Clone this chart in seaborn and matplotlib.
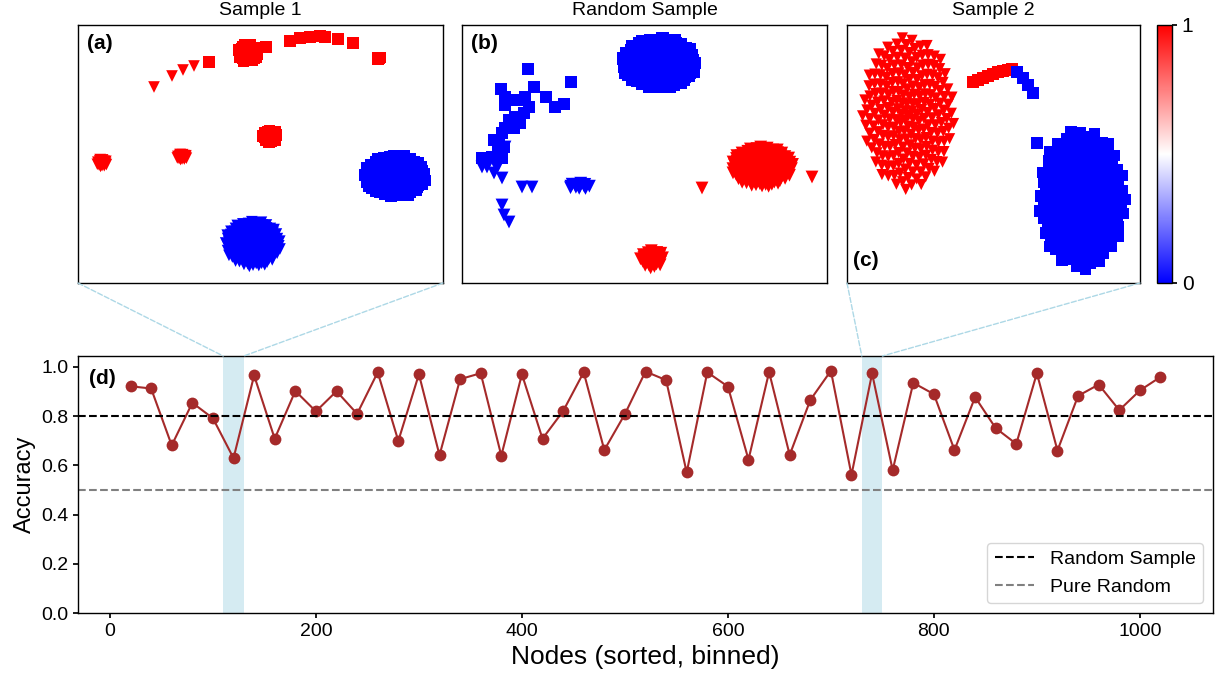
import numpy as np
import pandas as pd
import seaborn as sns
import matplotlib
matplotlib.use("Agg")
import matplotlib.pyplot as plt
from matplotlib.patches import ConnectionPatch
from matplotlib.lines import Line2D

# ---------------- data ----------------
nodes = [20, 40, 60, 80, 100, 120, 140, 160, 180, 200, 220, 240, 260, 280, 300,
         320, 340, 360, 380, 400, 420, 440, 460, 480, 500, 520, 540, 560, 580,
         600, 620, 640, 660, 680, 700, 720, 740, 760, 780, 800, 820, 840, 860,
         880, 900, 920, 940, 960, 980, 1000, 1020]
accuracy = [0.921, 0.912, 0.681, 0.854, 0.791, 0.629, 0.965, 0.708, 0.902, 0.819,
            0.901, 0.809, 0.978, 0.699, 0.970, 0.641, 0.950, 0.974, 0.639, 0.970,
            0.708, 0.820, 0.978, 0.662, 0.808, 0.981, 0.946, 0.571, 0.978, 0.920,
            0.623, 0.979, 0.642, 0.865, 0.984, 0.561, 0.973, 0.580, 0.935, 0.889,
            0.662, 0.877, 0.751, 0.687, 0.974, 0.660, 0.882, 0.928, 0.824, 0.904,
            0.959]
random_sample_acc = 0.8
pure_random_acc = 0.5
highlight_1 = (110, 130)
highlight_2 = (730, 750)

# embedding panels: clusters (center x, center y, radius x, radius y, count, marker, label)
# coordinates in panel units (x to the right, y downward)
clusters_a = [
    (170, 28, 10, 9, 40, "s", 1),
    (192, 111, 7, 6, 30, "s", 1),
    (24, 138, 5, 4, 20, "v", 1),
    (104, 132, 5, 3, 20, "v", 1),
    (301, 33, 2, 2, 4, "s", 1),
    (317, 151, 31, 21, 180, "s", 0),
    (175, 219, 28, 23, 180, "v", 0),
]
points_a_x = [76, 94, 105, 116, 131, 188, 212, 222, 232, 242, 247, 260, 275]
points_a_y = [62, 51, 45, 41, 37, 22, 16, 13, 12, 11, 12, 14, 18]
points_a_m = ["v", "v", "v", "v", "s", "s", "s", "s", "s", "s", "s", "s", "s"]
points_a_l = [1] * 13

clusters_b = [
    (197, 38, 37, 25, 200, "s", 0),
    (117, 161, 12, 3, 14, "v", 0),
    (300, 142, 31, 20, 170, "v", 1),
    (190, 234, 12, 9, 30, "v", 1),
]
points_b_x = [66, 109, 72, 39, 84, 102, 93, 43, 43, 55, 63, 67, 62, 53, 47, 43,
              52, 40, 32, 37, 42, 20, 30, 40, 36, 58,
              43, 25, 32, 40, 60, 70, 40, 42, 47, 20, 35,
              240, 350]
points_b_y = [44, 57, 62, 64, 72, 79, 82, 72, 80, 75, 72, 82, 88, 92, 95, 103,
              103, 108, 115, 118, 122, 133, 132, 133, 126, 98,
              122, 142, 148, 153, 162, 162, 180, 190, 197, 142, 143,
              163, 152]
points_b_m = ["s"] * 26 + ["v"] * 13
points_b_l = [0] * 37 + [1, 1]

clusters_c = [
    (61, 88, 46, 77, 210, "v", 1),
    (235, 174, 44, 71, 190, "s", 0),
]
points_c_x = [126, 131, 136, 141, 146, 151, 156, 161, 165, 170, 176, 181, 186, 190]
points_c_y = [57, 55, 53, 51, 49, 47, 46, 45, 44, 47, 53, 60, 68, 118]
points_c_m = ["s"] * 14
points_c_l = [1] * 9 + [0] * 5

panel_titles = ["Sample 1", "Random Sample", "Sample 2"]
panel_tags = ["(a)", "(b)", "(c)"]


def build(clusters, px, py, pm, pl, spread=0.5):
    rows = []
    golden = np.pi * (3 - np.sqrt(5))
    for cx, cy, rx, ry, n, m, lab in clusters:
        k = np.arange(n) + 0.5
        r = (k / n) ** (spread if n > 100 else 0.5)
        th = k * golden
        for xx, yy in zip(cx + rx * r * np.cos(th), cy + ry * r * np.sin(th)):
            rows.append((xx, yy, m, lab))
    for xx, yy, m, lab in zip(px, py, pm, pl):
        rows.append((xx, yy, m, lab))
    return pd.DataFrame(rows, columns=["x", "y", "marker", "label"])


df_a = build(clusters_a, points_a_x, points_a_y, points_a_m, points_a_l)
df_b = build(clusters_b, points_b_x, points_b_y, points_b_m, points_b_l)
df_c = build(clusters_c, points_c_x, points_c_y, points_c_m, points_c_l, spread=0.55)

# ---------------- style ----------------
sns.set_theme(style="ticks", rc={
    "axes.edgecolor": "black", "xtick.color": "black", "ytick.color": "black",
    "text.color": "black", "axes.labelcolor": "black",
    "xtick.major.size": 3.5, "ytick.major.size": 3.5,
    "axes.linewidth": 1.0,
})
plt.rcParams["font.family"] = ["Liberation Sans", "DejaVu Sans"]

W, H = 1221, 677
fig = plt.figure(figsize=(W / 100, H / 100), dpi=100)


def fax(l, t, r, b):
    return fig.add_axes([l / W, 1 - b / H, (r - l) / W, (b - t) / H])


cmap = plt.get_cmap("bwr")
pal = {0: cmap(0.0), 1: cmap(1.0)}

panels = [
    (fax(78, 25, 443, 283), df_a, 365, 70),
    (fax(462, 25, 827, 283), df_b, 365, 85),
    (fax(847, 25, 1140, 283), df_c, 293, 65),
]

for i, (pax, df, width, msize) in enumerate(panels):
    for m in ["s", "v"]:
        sub = df[df["marker"] == m]
        if len(sub):
            sns.scatterplot(data=sub, x="x", y="y", hue="label", palette=pal,
                            marker=m, s=msize, linewidth=0, ax=pax, legend=False)
    pax.set_xlim(0, width)
    pax.set_ylim(258, 0)
    pax.set_xticks([])
    pax.set_yticks([])
    pax.set_xlabel("")
    pax.set_ylabel("")
    for sp in pax.spines.values():
        sp.set_visible(True)
        sp.set_color("black")
    pax.set_title(panel_titles[i], fontsize=14, pad=7)
    if i < 2:
        pax.text(0.024, 0.965, panel_tags[i], transform=pax.transAxes,
                 fontsize=15, fontweight="bold", va="top", ha="left")
    else:
        pax.text(0.02, 0.05, panel_tags[i], transform=pax.transAxes,
                 fontsize=15, fontweight="bold", va="bottom", ha="left")

# colorbar
cax = fax(1157, 25, 1172, 283)
sm = plt.cm.ScalarMappable(cmap=cmap, norm=plt.Normalize(0, 1))
cb = fig.colorbar(sm, cax=cax, ticks=[0, 1])
cb.ax.tick_params(labelsize=15)
cb.outline.set_edgecolor("black")

# bottom line plot
ax = fax(78, 356, 1213, 613)
ax.axvspan(*highlight_1, color="lightblue", alpha=0.5, lw=0)
ax.axvspan(*highlight_2, color="lightblue", alpha=0.5, lw=0)
sns.lineplot(x=nodes, y=accuracy, ax=ax, color="brown", marker="o",
             markersize=8.5, markeredgewidth=0, linewidth=1.5)
ax.axhline(random_sample_acc, color="black", ls="--", lw=1.5)
ax.axhline(pure_random_acc, color="gray", ls="--", lw=1.5)
handles = [Line2D([], [], color="black", ls="--", lw=1.5),
           Line2D([], [], color="gray", ls="--", lw=1.5)]
ax.legend(handles, ["Random Sample", "Pure Random"], loc="lower right",
          fontsize=14, frameon=True)
ax.set_xlim(-31, 1071)
ax.set_ylim(0, 1.044)
ax.set_xticks([0, 200, 400, 600, 800, 1000])
ax.set_yticks([0, 0.2, 0.4, 0.6, 0.8, 1.0])
ax.set_yticklabels(["0.0", "0.2", "0.4", "0.6", "0.8", "1.0"])
ax.tick_params(labelsize=14)
ax.set_xlabel("Nodes (sorted, binned)", fontsize=19)
ax.set_ylabel("Accuracy", fontsize=17)
ax.text(0.01, 0.95, "(d)", transform=ax.transAxes, fontsize=15,
        fontweight="bold", va="top", ha="left")

# zoom connector lines
for pax, (lo, hi) in [(panels[0][0], highlight_1), (panels[2][0], highlight_2)]:
    for fx, xv in [(0, lo), (1, hi)]:
        con = ConnectionPatch(xyA=(fx, 0), coordsA=pax.transAxes,
                              xyB=(xv, 1), coordsB=ax.get_xaxis_transform(),
                              color="lightblue", ls="--", lw=1)
        fig.add_artist(con)

fig.savefig("out.png", dpi=100)
